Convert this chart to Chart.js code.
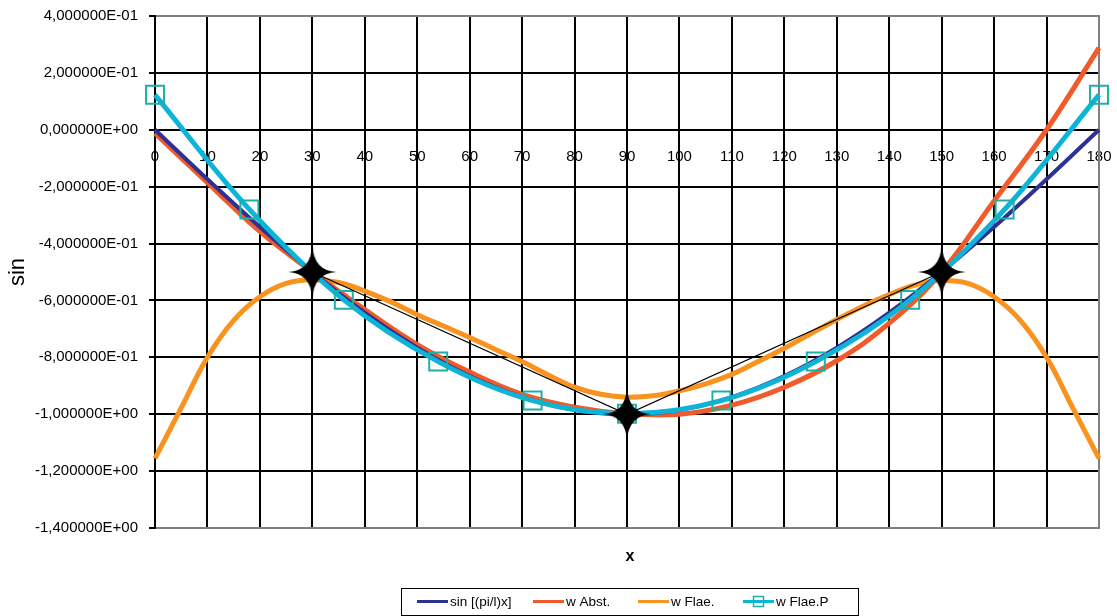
<!DOCTYPE html>
<html>
<head>
<meta charset="utf-8">
<script src="https://cdn.jsdelivr.net/npm/chart.js@4.4.1/dist/chart.umd.min.js"></script>
<style>
html,body{margin:0;padding:0;background:#fff;}
#wrap{width:1117px;height:616px;position:relative;}
</style>
</head>
<body>
<div id="wrap"><canvas id="c" width="1117" height="616"></canvas></div>
<script>
// ---------------- DATA ----------------
const xTickValues = [0,10,20,30,40,50,60,70,80,90,100,110,120,130,140,150,160,170,180];
const yTickValues = [-1.4,-1.2,-1.0,-0.8,-0.6,-0.4,-0.2,0,0.2,0.4];

const seriesLabels = ['sin [(pi/l)x]', 'w Abst.', 'w Flae.', 'w Flae.P'];

const xSin = [0,10,20,30,40,50,60,70,80,90,100,110,120,130,140,150,160,170,180];
const sinValues = [0,-0.174,-0.342,-0.5,-0.643,-0.766,-0.866,-0.94,-0.985,-1.0,-0.985,-0.94,-0.866,-0.766,-0.643,-0.5,-0.342,-0.174,0];

const xAbst = [0,10,20,30,40,50,60,70,80,90,100,110,120,130,140,150,160,170,180];
const abstValues = [-0.012,-0.186,-0.357,-0.5,-0.632,-0.755,-0.852,-0.93,-0.975,-0.998,-1.0,-0.968,-0.905,-0.812,-0.68,-0.5,-0.25,0.0,0.288];

const xFlae = [0,5,10,15,20,25,30,35,40,45,50,55,60,65,70,75,80,85,90,95,100,105,110,115,120,125,130,135,140,145,150,155,160,165,170,175,180];
const flaeValues = [-1.155,-0.978,-0.80,-0.67,-0.587,-0.54,-0.527,-0.537,-0.567,-0.605,-0.65,-0.69,-0.73,-0.773,-0.815,-0.862,-0.905,-0.93,-0.94,-0.935,-0.918,-0.893,-0.86,-0.815,-0.768,-0.717,-0.667,-0.62,-0.579,-0.545,-0.53,-0.54,-0.587,-0.67,-0.80,-0.978,-1.155];

const xFlaeP = [0,18,36,54,72,90,108,126,144,162,180];
const flaePValues = [0.123,-0.28,-0.598,-0.815,-0.952,-0.998,-0.952,-0.815,-0.598,-0.28,0.123];

const xStar = [30,90,150];
const starValues = [-0.5,-1.0,-0.5];

// ---------------- STYLE ----------------
const COL_SIN = '#2E3192';
const COL_ABST = '#F15A29';
const COL_FLAE = '#F7931E';
const COL_FLAEP = '#0DB4D8';
const COL_MARK = '#1DB0A6';
const FONT = '"Liberation Sans", Arial, sans-serif';

const pts = (xs, ys) => xs.map((x, i) => ({x: x, y: ys[i]}));

function makeStar() {
  const c = document.createElement('canvas');
  c.width = 50; c.height = 56;
  const g = c.getContext('2d');
  const cx = 25, cy = 28, RX = 24, RY = 27, k = 1.3;
  const outer = [[cx, cy - RY], [cx + RX, cy], [cx, cy + RY], [cx - RX, cy]];
  const ctrl = [[cx + k, cy - k], [cx + k, cy + k], [cx - k, cy + k], [cx - k, cy - k]];
  g.fillStyle = '#000';
  g.beginPath();
  g.moveTo(outer[0][0], outer[0][1]);
  for (let i = 0; i < 4; i++) {
    const n = outer[(i + 1) % 4];
    g.quadraticCurveTo(ctrl[i][0], ctrl[i][1], n[0], n[1]);
  }
  g.closePath();
  g.fill();
  return c;
}
const starImg = makeStar();

function sciLabel(v) {
  if (Math.abs(v) < 1e-10) v = 0;
  const s = Number(v).toExponential(6);
  const parts = s.split('e');
  const e = parts[1];
  const sign = e[0] === '-' ? '-' : '+';
  const d = e.replace(/[+-]/, '');
  return parts[0].replace('.', ',') + 'E' + sign + d.padStart(2, '0');
}

const decor = {
  id: 'decor',
  beforeDatasetsDraw(chart) {
    const {ctx, chartArea: a} = chart;
    ctx.save();
    ctx.lineWidth = 2;
    ctx.strokeStyle = '#808080';
    ctx.beginPath();
    ctx.moveTo(a.left, a.top);
    ctx.lineTo(a.right, a.top);
    ctx.lineTo(a.right, a.bottom);
    ctx.lineTo(a.left, a.bottom);
    ctx.stroke();
    ctx.strokeStyle = '#000';
    ctx.beginPath();
    ctx.moveTo(a.left, a.top - 1);
    ctx.lineTo(a.left, a.bottom + 1);
    ctx.stroke();
    ctx.restore();
  },
  afterDraw(chart) {
    const {ctx, chartArea: a} = chart;
    ctx.save();
    ctx.fillStyle = '#000';
    // y title
    ctx.font = '22px ' + FONT;
    ctx.textAlign = 'center';
    ctx.textBaseline = 'middle';
    ctx.save();
    ctx.translate(18, (a.top + a.bottom) / 2);
    ctx.rotate(-Math.PI / 2);
    ctx.fillText('sin', 0, 0);
    ctx.restore();
    // x title
    ctx.font = 'bold 16px ' + FONT;
    ctx.fillText('x', 630, 557);
    // legend
    ctx.lineWidth = 1;
    ctx.strokeStyle = '#000';
    ctx.strokeRect(401.5, 588.5, 457, 27);
    const colors = [COL_SIN, COL_ABST, COL_FLAE, COL_FLAEP];
    const starts = [417, 533, 638, 743];
    const ly = 601.5;
    ctx.font = '13.5px ' + FONT;
    ctx.textAlign = 'left';
    ctx.textBaseline = 'middle';
    for (let i = 0; i < 4; i++) {
      const x0 = starts[i];
      ctx.strokeStyle = colors[i];
      ctx.lineWidth = 3;
      ctx.beginPath();
      ctx.moveTo(x0, ly);
      ctx.lineTo(x0 + 31, ly);
      ctx.stroke();
      if (i === 3) {
        ctx.strokeStyle = COL_MARK;
        ctx.lineWidth = 1.5;
        ctx.strokeRect(x0 + 15.5 - 5, ly - 5, 10, 10);
      }
      ctx.fillStyle = '#000';
      ctx.fillText(seriesLabels[i], x0 + 33, ly + 1);
    }
    ctx.restore();
  }
};

function noPad(s) { s.paddingLeft = 0; s.paddingRight = 0; s.paddingTop = 0; s.paddingBottom = 0; }

new Chart(document.getElementById('c'), {
  type: 'line',
  data: {
    datasets: [
      {
        label: 'star', data: pts(xStar, starValues),
        borderColor: '#000', borderWidth: 1.3, tension: 0,
        pointStyle: starImg, pointRadius: 5, order: 0, clip: false
      },
      {
        label: seriesLabels[3], data: pts(xFlaeP, flaePValues),
        borderColor: COL_FLAEP, borderWidth: 5, tension: 0.35,
        pointStyle: 'rect', pointRadius: 12.7, pointBorderColor: COL_MARK, pointBorderWidth: 2,
        pointBackgroundColor: 'rgba(0,0,0,0)', order: 1, clip: false
      },
      {
        label: seriesLabels[0], data: pts(xSin, sinValues),
        borderColor: COL_SIN, borderWidth: 4, tension: 0.4,
        pointRadius: 0, order: 2, clip: false
      },
      {
        label: seriesLabels[1], data: pts(xAbst, abstValues),
        borderColor: COL_ABST, borderWidth: 5, tension: 0.4,
        pointRadius: 0, order: 3, clip: false
      },
      {
        label: seriesLabels[2], data: pts(xFlae, flaeValues),
        borderColor: COL_FLAE, borderWidth: 5, tension: 0.4,
        pointRadius: 0, order: 4, clip: false
      }
    ]
  },
  options: {
    responsive: false,
    animation: false,
    events: [],
    layout: {padding: {top: 16, right: 18, left: 0, bottom: 0}},
    plugins: {legend: {display: false}, tooltip: {enabled: false}, title: {display: false}},
    scales: {
      x: {
        type: 'linear', position: 'bottom', min: 0, max: 180,
        afterBuildTicks: s => { s.ticks = xTickValues.map(v => ({value: v})); },
        afterFit: s => { s.height = 88; noPad(s); },
        ticks: {display: false},
        grid: {color: '#000', lineWidth: 2, drawTicks: false},
        border: {display: false}
      },
      x2: {
        type: 'linear', position: {y: 0}, min: 0, max: 180,
        afterBuildTicks: s => { s.ticks = xTickValues.map(v => ({value: v})); },
        afterFit: s => { noPad(s); },
        ticks: {color: '#000', font: {family: FONT, size: 15}, padding: 18, maxRotation: 0, autoSkip: false},
        grid: {display: false, drawTicks: false},
        border: {display: false}
      },
      y: {
        type: 'linear', position: 'left', min: -1.4, max: 0.4,
        afterBuildTicks: s => { s.ticks = yTickValues.map(v => ({value: v})); },
        afterFit: s => { s.width = 155; noPad(s); },
        ticks: {color: '#000', font: {family: FONT, size: 15}, padding: 11, callback: v => sciLabel(v)},
        grid: {color: '#000', lineWidth: 2, drawTicks: true, tickLength: 6, tickColor: '#000'},
        border: {display: true, color: '#000', width: 2}
      }
    }
  },
  plugins: [decor]
});
</script>
</body>
</html>
